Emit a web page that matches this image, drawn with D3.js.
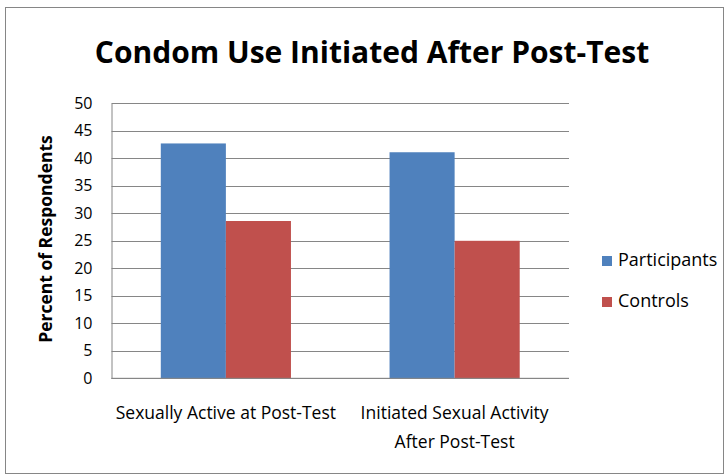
<!DOCTYPE html>
<html>
<head>
<meta charset="utf-8">
<script src="https://cdn.jsdelivr.net/npm/d3@7"></script>
<style>
  body { margin: 0; background: #fff; }
  text { font-family: "Open Sans", sans-serif; fill: #000; }
</style>
</head>
<body>
<svg id="chart" width="728" height="476"></svg>
<script>
// chart data
var categories = [["Sexually Active at Post-Test"], ["Initiated Sexual Activity", "After Post-Test"]];
var seriesNames = ["Participants", "Controls"];
var participants = [42.7, 41.1];
var controls = [28.6, 25.0];
var yTicks = [0, 5, 10, 15, 20, 25, 30, 35, 40, 45, 50];
var colors = ["#4F81BD", "#C0504D"];

var svg = d3.select("#chart");

// frame
svg.append("rect")
    .attr("x", 5.5).attr("y", 7.5)
    .attr("width", 718).attr("height", 466)
    .attr("fill", "#fff")
    .attr("stroke", "#868686");

svg.append("text")
    .attr("x", 372).attr("y", 63)
    .attr("text-anchor", "middle")
    .attr("font-weight", "bold")
    .attr("font-size", 30)
    .text("Condom Use Initiated After Post-Test");

var plotLeft = 111.5, plotRight = 569, plotTop = 103.3, plotBottom = 378.3;

var y = d3.scaleLinear().domain([0, 50]).range([plotBottom, plotTop]);
var x0 = d3.scaleBand().domain(d3.range(categories.length)).range([plotLeft, plotRight]).paddingInner(0.431).paddingOuter(0.2155);
var x1 = d3.scaleBand().domain(d3.range(seriesNames.length)).range([0, x0.bandwidth()]);

// gridlines
svg.append("g").selectAll("line")
    .data(yTicks)
    .enter().append("line")
    .attr("x1", plotLeft).attr("x2", plotRight)
    .attr("y1", function(d){ return Math.round(y(d)) + 0.5; })
    .attr("y2", function(d){ return Math.round(y(d)) + 0.5; })
    .attr("stroke", "#868686")
    .attr("stroke-width", 1);

// y axis
var yAxis = svg.append("g")
    .attr("transform", "translate(" + plotLeft + ",0)")
    .call(d3.axisLeft(y).tickValues(yTicks).tickSize(0).tickPadding(19));
yAxis.select(".domain").attr("stroke", "#868686");
yAxis.selectAll("text")
    .attr("font-size", 16)
    .attr("fill", "#000")
    .style("font-family", "'Open Sans', sans-serif");

svg.append("text")
    .attr("transform", "translate(52,239) rotate(-90)")
    .attr("text-anchor", "middle")
    .attr("font-weight", "bold")
    .attr("font-size", 17.5)
    .text("Percent of Respondents");

// bars
var rows = [participants, controls];
rows.forEach(function(vals, s){
    svg.append("g").selectAll("rect")
        .data(vals)
        .enter().append("rect")
        .attr("x", function(d, i){ return x0(i) + x1(s); })
        .attr("width", x1.bandwidth())
        .attr("y", function(d){ return y(d); })
        .attr("height", function(d){ return plotBottom - y(d); })
        .attr("fill", colors[s]);
});

// baseline
svg.append("line")
    .attr("x1", plotLeft).attr("x2", plotRight)
    .attr("y1", plotBottom).attr("y2", plotBottom)
    .attr("stroke", "#868686");

// category labels
svg.append("g").selectAll("text")
    .data(categories)
    .enter().append("text")
    .attr("text-anchor", "middle")
    .attr("font-size", 17.5)
    .attr("fill", "#000")
    .each(function(d, i){
        var self = d3.select(this);
        d.forEach(function(line, j){
            self.append("tspan")
                .attr("x", x0(i) + x0.bandwidth() / 2)
                .attr("y", 419 + j * 29)
                .text(line);
        });
    });

// legend
var legend = svg.append("g").selectAll("g")
    .data(seriesNames)
    .enter().append("g")
    .attr("transform", function(d, i){ return "translate(602," + (256 + i * 41) + ")"; });
legend.append("rect")
    .attr("width", 10).attr("height", 10)
    .attr("fill", function(d, i){ return colors[i]; });
legend.append("text")
    .attr("x", 16).attr("y", 10)
    .attr("font-size", 18)
    .text(function(d){ return d; });
</script>
</body>
</html>
